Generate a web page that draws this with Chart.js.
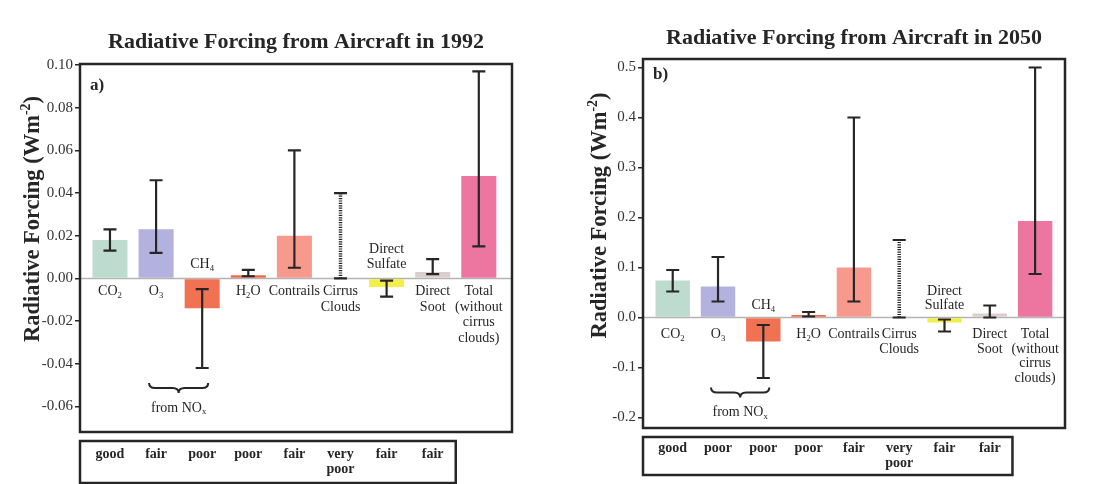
<!DOCTYPE html>
<html>
<head>
<meta charset="utf-8">
<script src="https://cdn.jsdelivr.net/npm/chart.js@4.4.1/dist/chart.umd.min.js"></script>
<style>
  html, body { margin: 0; padding: 0; background: #fff; }
  .panel { position: absolute; top: 0; width: 552px; height: 484px; }
  #left { left: 0; }
  #right { left: 552px; }
</style>
</head>
<body>
<div class="panel" id="left"><canvas id="chart1992"></canvas></div>
<div class="panel" id="right"><canvas id="chart2050"></canvas></div>
<script>
// categories (lines of each label, "_x" = subscript)
const categoryLabels = [
    ['CO_2'], ['O_3'], ['CH_4'], ['H_2O'], ['Contrails'],
    ['Cirrus', 'Clouds'], ['Direct', 'Sulfate'], ['Direct', 'Soot'],
    ['Total', '(without', 'cirrus', 'clouds)']
];

// 1992 forcing (W m-2): best estimate and uncertainty range
const forcing1992 = [0.018, 0.023, -0.014, 0.0015, 0.020, null, -0.004, 0.003, 0.048];
const low1992     = [0.013, 0.012, -0.042, 0.001, 0.005, 0.000, -0.0085, 0.002, 0.015];
const high1992    = [0.023, 0.046, -0.005, 0.004, 0.060, 0.040, -0.001, 0.009, 0.097];
const quality1992 = ['good', 'fair', 'poor', 'poor', 'fair', 'very poor', 'fair', 'fair'];
const ticks1992   = [-0.06, -0.04, -0.02, 0.00, 0.02, 0.04, 0.06, 0.08, 0.10];

// 2050 forcing (W m-2)
const forcing2050 = [0.074, 0.062, -0.048, 0.005, 0.100, null, -0.010, 0.008, 0.193];
const low2050     = [0.052, 0.032, -0.121, 0.002, 0.032, 0.000, -0.028, 0.000, 0.087];
const high2050    = [0.095, 0.121, -0.015, 0.011, 0.400, 0.155, -0.004, 0.024, 0.500];
const quality2050 = ['good', 'poor', 'poor', 'poor', 'fair', 'very poor', 'fair', 'fair'];
const ticks2050   = [-0.2, -0.1, 0.0, 0.1, 0.2, 0.3, 0.4, 0.5];

const barColors = ['#bddccf', '#b3b2df', '#f07252', '#ef6c4c', '#f79a8d', '#cccccc', '#f4ee48', '#dacfcc', '#ec76a0'];
const DOTTED_INDEX = 5;   // cirrus clouds: range only, dotted
const SERIF = '"Liberation Serif", "Times New Roman", serif';
const INK = '#262626';

/**
 * Splits "CO_2" / "Wm^{-2}" into plain, sub and superscript pieces
 */
function tokens(text) {
    const out = [];
    let i = 0, buf = '';
    while (i < text.length) {
        const c = text[i];
        if (c === '_' || c === '^') {
            if (buf) { out.push({ t: buf, s: 0 }); buf = ''; }
            let t;
            if (text[i + 1] === '{') {
                const j = text.indexOf('}', i);
                t = text.slice(i + 2, j);
                i = j + 1;
            } else {
                t = text[i + 1];
                i += 2;
            }
            out.push({ t: t, s: c === '_' ? 1 : -1 });
        } else {
            buf += c;
            i++;
        }
    }
    if (buf) out.push({ t: buf, s: 0 });
    return out;
}

function drawRich(ctx, text, x, y, size, weight, align) {
    const toks = tokens(text);
    const font = sz => weight + ' ' + sz + 'px ' + SERIF;
    let w = 0;
    toks.forEach(k => {
        ctx.font = font(k.s ? size * 0.62 : size);
        k.w = ctx.measureText(k.t).width;
        w += k.w;
    });
    let cx = align === 'center' ? x - w / 2 : (align === 'right' ? x - w : x);
    ctx.textAlign = 'left';
    ctx.textBaseline = 'middle';
    toks.forEach(k => {
        ctx.font = font(k.s ? size * 0.62 : size);
        ctx.fillText(k.t, cx, y + k.s * size * 0.3);
        cx += k.w;
    });
}

/**
 * Decoration plugin: zero line, error bars, in-plot labels, frame, quality box
 */
function panelDecor(p) {
    return {
        id: 'panelDecor',
        beforeDatasetsDraw(chart) {
            const { ctx, chartArea: a, scales: { y } } = chart;
            const y0 = y.getPixelForValue(0);
            ctx.save();
            ctx.strokeStyle = '#b4b4b4';
            ctx.lineWidth = 1.5;
            ctx.beginPath();
            ctx.moveTo(a.left, y0);
            ctx.lineTo(a.right, y0);
            ctx.stroke();
            ctx.restore();
        },
        afterDatasetsDraw(chart) {
            const { ctx, scales: { x, y } } = chart;
            ctx.save();
            ctx.strokeStyle = INK;
            ctx.lineCap = 'butt';
            p.low.forEach((lo, i) => {
                const px = x.getPixelForValue(i);
                const yl = y.getPixelForValue(lo);
                const yh = y.getPixelForValue(p.high[i]);
                ctx.beginPath();
                if (i === DOTTED_INDEX) {
                    ctx.lineWidth = 3.5;
                    ctx.setLineDash([1.2, 1.2]);
                } else {
                    ctx.lineWidth = 2.2;
                    ctx.setLineDash([]);
                }
                ctx.moveTo(px, yl);
                ctx.lineTo(px, yh);
                ctx.stroke();
                ctx.setLineDash([]);
                ctx.lineWidth = 2.2;
                ctx.beginPath();
                ctx.moveTo(px - 6.5, yl); ctx.lineTo(px + 6.5, yl);
                ctx.moveTo(px - 6.5, yh); ctx.lineTo(px + 6.5, yh);
                ctx.stroke();
            });
            ctx.restore();
        },
        afterDraw(chart) {
            const { ctx, chartArea: a, scales: { x, y } } = chart;
            const y0 = y.getPixelForValue(0);
            ctx.save();
            ctx.fillStyle = INK;

            // title and panel tag
            drawRich(ctx, p.title, (a.left + a.right) / 2, a.top - p.titleGap, 22, 'bold', 'center');
            drawRich(ctx, p.tag, a.left + 10, a.top + p.tagGap, 17, 'bold', 'left');

            // y axis title
            ctx.save();
            ctx.translate(p.yTitleX, (a.top + a.bottom) / 2 - p.yTitleLift);
            ctx.rotate(-Math.PI / 2);
            drawRich(ctx, 'Radiative Forcing (Wm^{-2})', 0, 0, 22.5, 'bold', 'center');
            ctx.restore();

            // category labels near the zero line
            categoryLabels.forEach((lines, i) => {
                const px = x.getPixelForValue(i);
                const above = p.values[i] !== null && p.values[i] < 0;
                lines.forEach((ln, k) => {
                    const ly = above
                        ? y0 - p.aboveGap - (lines.length - 1 - k) * p.lineH
                        : y0 + p.belowGap + k * p.lineH;
                    drawRich(ctx, ln, px, ly, 14, 'normal', 'center');
                });
            });

            // brace under the NOx-related terms
            const bx1 = x.getPixelForValue(1) - 7;
            const bx2 = x.getPixelForValue(2) + 6;
            const bm = (bx1 + bx2) / 2;
            const by = y.getPixelForValue(p.braceY);
            ctx.strokeStyle = INK;
            ctx.lineWidth = 2;
            ctx.beginPath();
            ctx.moveTo(bx1, by);
            ctx.quadraticCurveTo(bx1, by + 5, bx1 + 6, by + 5);
            ctx.lineTo(bm - 6, by + 5);
            ctx.quadraticCurveTo(bm, by + 5, bm, by + 10);
            ctx.quadraticCurveTo(bm, by + 5, bm + 6, by + 5);
            ctx.lineTo(bx2 - 6, by + 5);
            ctx.quadraticCurveTo(bx2, by + 5, bx2, by);
            ctx.stroke();
            drawRich(ctx, 'from NO_x', bm, by + 25, 14, 'normal', 'center');

            // plot frame
            ctx.strokeStyle = INK;
            ctx.lineWidth = 2.5;
            ctx.strokeRect(a.left, a.top, a.right - a.left, a.bottom - a.top);

            // level of scientific understanding box
            const boxTop = a.bottom + 9;
            const boxRight = x.getPixelForValue(p.quality.length - 0.5);
            ctx.strokeRect(a.left, boxTop, boxRight - a.left, p.boxH);
            p.quality.forEach((q, i) => {
                const px = x.getPixelForValue(i);
                q.split(' ').forEach((w, k) => {
                    drawRich(ctx, w, px, boxTop + p.boxText + k * 15, 14, 'bold', 'center');
                });
            });
            ctx.restore();
        }
    };
}

function makePanel(p) {
    const ctx = document.getElementById(p.id);
    return new Chart(ctx.getContext('2d'), {
        type: 'bar',
        data: {
            datasets: [{
                data: p.values.map((v, i) => ({ x: i, y: v })),
                backgroundColor: barColors,
                borderWidth: 0,
                barPercentage: 0.76,
                categoryPercentage: 1
            }]
        },
        options: {
            responsive: true,
            maintainAspectRatio: false,
            animation: false,
            layout: { padding: p.padding },
            plugins: {
                legend: { display: false },
                tooltip: { enabled: false }
            },
            scales: {
                x: {
                    type: 'linear',
                    min: p.xMin,
                    max: p.xMax,
                    offset: false,
                    display: false
                },
                y: {
                    min: p.yMin,
                    max: p.yMax,
                    afterBuildTicks: s => { s.ticks = p.ticks.map(v => ({ value: v })); },
                    afterFit: s => { s.width = 50; },
                    border: { display: false },
                    grid: {
                        drawOnChartArea: false,
                        tickLength: 5,
                        color: INK,
                        lineWidth: 1.5
                    },
                    ticks: {
                        color: '#333',
                        padding: 2,
                        font: { family: SERIF, size: 15 },
                        callback: v => v.toFixed(p.decimals)
                    }
                }
            }
        },
        plugins: [panelDecor(p)]
    });
}

makePanel({
    id: 'chart1992',
    title: 'Radiative Forcing from Aircraft in 1992',
    tag: 'a)',
    values: forcing1992, low: low1992, high: high1992,
    quality: quality1992, ticks: ticks1992, decimals: 2,
    yMin: -0.072, yMax: 0.1005, xMin: -0.65, xMax: 8.72,
    padding: { left: 30, right: 40, top: 64, bottom: 52 },
    titleGap: 22, tagGap: 22, yTitleX: 33, yTitleLift: 29,
    belowGap: 13, aboveGap: 14, lineH: 15.5,
    braceY: -0.049, boxH: 42, boxText: 13
});

makePanel({
    id: 'chart2050',
    title: 'Radiative Forcing from Aircraft in 2050',
    tag: 'b)',
    values: forcing2050, low: low2050, high: high2050,
    quality: quality2050, ticks: ticks2050, decimals: 1,
    yMin: -0.221, yMax: 0.517, xMin: -0.656, xMax: 8.66,
    padding: { left: 41, right: 39, top: 59, bottom: 56 },
    titleGap: 21, tagGap: 16, yTitleX: 48, yTitleLift: 28,
    belowGap: 17, aboveGap: 12, lineH: 14.5,
    braceY: -0.14, boxH: 38, boxText: 11
});
</script>
</body>
</html>
